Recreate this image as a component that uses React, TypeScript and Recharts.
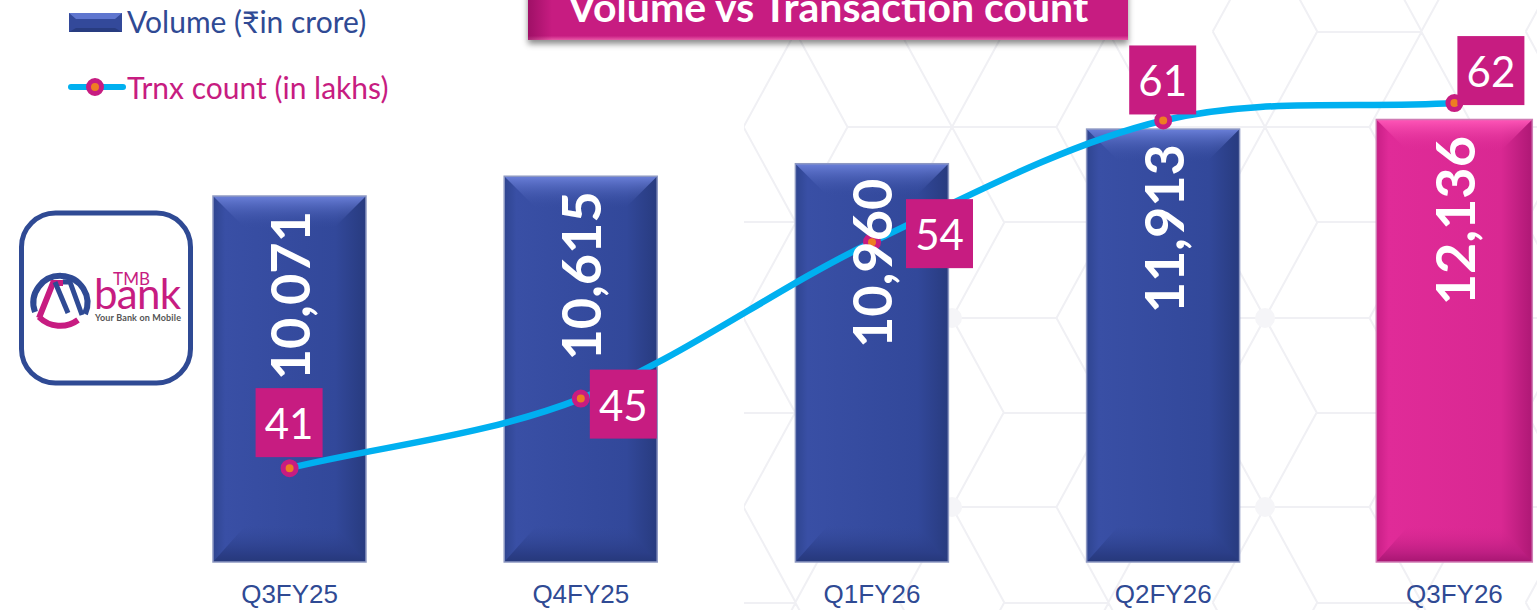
import { Bar, ComposedChart, LabelList, Line, XAxis, YAxis } from "recharts";

const categories = ["Q3FY25", "Q4FY25", "Q1FY26", "Q2FY26", "Q3FY26"];
const volume = [10071, 10615, 10960, 11913, 12136];
const trnxCount = [41, 45, 54, 61, 62];

const VOLUME_NAME = "Volume (₹in crore)";
const TRNX_NAME = "Trnx count (in lakhs)";
const TITLE = "Volume vs Transaction count";

const NAVY = "#2f4a94";
const MAGENTA = "#c71c81";

// where each count box sits relative to its point
const BOX_OFFSETS = [
  [-34, -80],
  [9, -29],
  [34, -43],
  [-34, -75],
  [3, -67],
];

const chartData = categories.map((category, i) => ({
  category,
  volume: volume[i],
  trnx: trnxCount[i],
}));

// Same smoothing as the spreadsheet line: catmull-rom tangents, passed to Line as a curve factory
function smoothCurve(context: any) {
  let pts: [number, number][] = [];
  return {
    areaStart() {},
    areaEnd() {},
    lineStart() {
      pts = [];
    },
    point(x: number, y: number) {
      pts.push([+x, +y]);
    },
    lineEnd() {
      pts.forEach(([x, y], i) => {
        if (i === 0) {
          context.moveTo(x, y);
          return;
        }
        const p0 = pts[Math.max(i - 2, 0)];
        const p1 = pts[i - 1];
        const p3 = pts[Math.min(i + 1, pts.length - 1)];
        const k1 = i === 1 ? 3 : 6;
        const k2 = i === pts.length - 1 ? 3 : 6;
        context.bezierCurveTo(
          p1[0] + (x - p0[0]) / k1,
          p1[1] + (y - p0[1]) / k1,
          x - (p3[0] - p1[0]) / k2,
          y - (p3[1] - p1[1]) / k2,
          x,
          y
        );
      });
    },
  };
}

// Bar with the bevelled look of the slide
function BevelBar(props: any) {
  const { index } = props;
  const pink = index === categories.length - 1;
  const key = pink ? "pink" : "navy";
  // the highlighted bar is a touch bigger on the slide
  const grow = pink ? 1.5 : 0;
  const x = props.x - grow;
  const y = props.y - grow;
  const width = props.width + grow * 2;
  const height = props.height + grow;
  const bev = 32;
  const right = x + width;
  const bottom = y + height;
  return (
    <g>
      <rect x={x} y={y} width={width} height={height} fill={`url(#side-${key})`} />
      <polygon
        points={`${x},${y} ${right},${y} ${right - bev},${y + bev} ${x + bev},${y + bev}`}
        fill={`url(#top-${key})`}
      />
      <polygon
        points={`${x},${bottom} ${right},${bottom} ${right - bev},${bottom - bev - 4} ${x + bev},${bottom - bev - 4}`}
        fill={`url(#bottom-${key})`}
      />
      <rect
        x={x}
        y={y}
        width={width}
        height={height}
        fill="none"
        stroke={pink ? "#cf7cb4" : "#8d98c2"}
        strokeWidth={1.5}
      />
    </g>
  );
}

function VolumeLabel(props: any) {
  const { x, y, value } = props;
  const top = y + 15;
  return (
    <text
      x={x}
      y={top}
      transform={`rotate(-90 ${x} ${top})`}
      textAnchor="end"
      dominantBaseline="central"
      fill="#fff"
      fontFamily="Lato"
      fontWeight={700}
      fontSize={54}
    >
      {value.toLocaleString("en-US")}
    </text>
  );
}

function CountBox(props: any) {
  const { x, y, value, index } = props;
  const [dx, dy] = BOX_OFFSETS[index];
  return (
    <g>
      <rect x={x + dx} y={y + dy} width={67} height={69} fill={MAGENTA} />
      <text
        x={x + dx + 33.5}
        y={y + dy + 35}
        textAnchor="middle"
        dominantBaseline="central"
        fill="#fff"
        fontFamily="Lato"
        fontSize={42}
      >
        {value}
      </text>
    </g>
  );
}

// faint hexagon pattern behind the chart
function HexBackground() {
  const side = 104.5;
  const rise = 95.5;
  const segments: string[] = [];
  const blobs: [number, number][] = [];
  for (const cx of [639, 952, 1265, 1578]) {
    for (const cy of [-64, 127, 318, 507, 698]) {
      segments.push(`M${cx - side} ${cy}L${cx + side} ${cy}`);
      for (const vx of [cx - side, cx, cx + side]) {
        const dirs = vx === cx ? [-1, 1] : vx < cx ? [-1] : [1];
        for (const d of dirs) {
          segments.push(`M${vx} ${cy}L${vx + (d * side) / 2} ${cy - rise}`);
          segments.push(`M${vx} ${cy}L${vx + (d * side) / 2} ${cy + rise}`);
        }
      }
      if (cx > 639 && (cy === 318 || cy === 507)) blobs.push([cx, cy]);
    }
    for (const cy of [32, 222, 413, 603]) {
      const fx = cx + side / 2;
      segments.push(`M${fx} ${cy}L${fx + side} ${cy}`);
    }
  }
  return (
    <svg width={1537} height={610} style={{ position: "absolute", left: 0, top: 0 }}>
      <defs>
        <clipPath id="hex-clip">
          <rect x={744} y={0} width={793} height={610} />
        </clipPath>
      </defs>
      <g clipPath="url(#hex-clip)">
        <path d={segments.join("")} stroke="#f0f0f4" strokeWidth={2} fill="none" />
        {blobs.map(([bx, by]) => (
          <circle key={`${bx}-${by}`} cx={bx} cy={by} r={10} fill="#f5f5f8" />
        ))}
      </g>
    </svg>
  );
}

function LegendBlock() {
  const textStyle = {
    position: "absolute" as const,
    left: 127,
    fontFamily: "Lato",
    fontSize: 30,
    lineHeight: "34px",
    whiteSpace: "nowrap" as const,
  };
  return (
    <>
      <svg width={60} height={24} style={{ position: "absolute", left: 68, top: 10 }}>
        <rect x={1} y={3} width={53} height={19} fill="#33499a" />
        <polygon points="1,3 54,3 47,9 8,9" fill="#5f76cf" />
        <polygon points="1,22 54,22 47,18 8,18" fill="#283c80" />
      </svg>
      <div style={{ ...textStyle, top: 4, color: NAVY }}>{VOLUME_NAME}</div>
      <svg width={60} height={24} style={{ position: "absolute", left: 66, top: 75 }}>
        <line x1={5} y1={12} x2={57} y2={12} stroke="#00b0f0" strokeWidth={6} strokeLinecap="round" />
        <circle cx={29} cy={12} r={6.5} fill="#ee7d22" stroke={MAGENTA} strokeWidth={5} />
      </svg>
      <div style={{ ...textStyle, top: 70, color: MAGENTA }}>{TRNX_NAME}</div>
    </>
  );
}

function TitleBanner() {
  return (
    <div
      style={{
        position: "absolute",
        left: 528,
        top: -20,
        width: 600,
        height: 60,
        background:
          "linear-gradient(to right, rgba(110,0,70,0.45), rgba(110,0,70,0) 4%), linear-gradient(to bottom, #c71c81 0%, #c71c81 93%, #e85aa8 100%)",
        boxShadow: "0 4px 6px rgba(0,0,0,0.45)",
        color: "#fff",
        fontFamily: "Lato",
        fontWeight: 700,
        fontSize: 41,
        textAlign: "center",
        lineHeight: "54px",
        whiteSpace: "nowrap",
      }}
    >
      {TITLE}
    </div>
  );
}

function LogoTile() {
  return (
    <svg width={180} height={180} viewBox="16 208 180 180" style={{ position: "absolute", left: 16, top: 208 }}>
      <rect x={21.5} y={213} width={169} height={170} rx={34} fill="#fff" stroke={NAVY} strokeWidth={5} />
      <path d="M35 312 A27 27 0 1 1 85 314" fill="none" stroke={NAVY} strokeWidth={6} />
      <path d="M39 317 A30 30 0 0 0 78 320" fill="none" stroke={MAGENTA} strokeWidth={6} />
      <path d="M39 318 L53 283 L63 283" fill="none" stroke={MAGENTA} strokeWidth={6} />
      <path d="M55 282 L68 313" fill="none" stroke={NAVY} strokeWidth={5} />
      <path d="M63 282 L70 282 L82 315" fill="none" stroke={NAVY} strokeWidth={5} />
      <text x={113} y={285} fontFamily="Lato" fontSize={17} fill={MAGENTA} textLength={37}>TMB</text>
      <text x={94} y={309} fontFamily="Lato" fontSize={42} fill={MAGENTA} textLength={87}>bank</text>
      <text x={95} y={321} fontFamily="Lato" fontSize={9} fontWeight={700} fill="#555" textLength={86}>Your Bank on Mobile</text>
    </svg>
  );
}

export default function App() {
  return (
    <div style={{ position: "absolute", left: 0, top: 0, width: 1537, height: 610, overflow: "hidden", background: "#fff" }}>
      <HexBackground />
      <div style={{ position: "absolute", left: 0, top: 0 }}>
        <ComposedChart
          width={1600}
          height={610}
          data={chartData}
          margin={{ top: 0, right: 0, bottom: 0, left: 144 }}
        >
          <defs>
            <linearGradient id="side-navy" x1="0" y1="0" x2="1" y2="0">
              <stop offset="0" stopColor="#2f4590" />
              <stop offset="0.08" stopColor="#394fa5" />
              <stop offset="0.8" stopColor="#32489a" />
              <stop offset="1" stopColor="#283b7f" />
            </linearGradient>
            <linearGradient id="top-navy" x1="0" y1="0" x2="0" y2="1">
              <stop offset="0" stopColor="#6b80d9" />
              <stop offset="1" stopColor="#3a50a4" stopOpacity={0} />
            </linearGradient>
            <linearGradient id="bottom-navy" x1="0" y1="1" x2="0" y2="0">
              <stop offset="0" stopColor="#26387a" />
              <stop offset="0.25" stopColor="#2b3e88" />
              <stop offset="1" stopColor="#324796" stopOpacity={0} />
            </linearGradient>
            <linearGradient id="side-pink" x1="0" y1="0" x2="1" y2="0">
              <stop offset="0" stopColor="#c81f86" />
              <stop offset="0.08" stopColor="#e02b98" />
              <stop offset="0.8" stopColor="#d92892" />
              <stop offset="1" stopColor="#ae1875" />
            </linearGradient>
            <linearGradient id="top-pink" x1="0" y1="0" x2="0" y2="1">
              <stop offset="0" stopColor="#ff57b8" />
              <stop offset="1" stopColor="#dd2a95" stopOpacity={0} />
            </linearGradient>
            <linearGradient id="bottom-pink" x1="0" y1="1" x2="0" y2="0">
              <stop offset="0" stopColor="#a81672" />
              <stop offset="0.25" stopColor="#bd1e82" />
              <stop offset="1" stopColor="#d72790" stopOpacity={0} />
            </linearGradient>
          </defs>
          <XAxis
            dataKey="category"
            height={48}
            interval={0}
            axisLine={false}
            tickLine={false}
            tickMargin={17}
            tick={{ fontSize: 26, fill: NAVY, fontFamily: "Liberation Sans" }}
          />
          <YAxis yAxisId="vol" hide domain={[0, 15465]} />
          <YAxis yAxisId="trnx" hide orientation="right" domain={[35.6, 67.93]} />
          <Bar
            yAxisId="vol"
            dataKey="volume"
            barSize={153}
            shape={BevelBar}
            isAnimationActive={false}
          />
          <Line
            yAxisId="trnx"
            dataKey="trnx"
            type={smoothCurve as any}
            stroke="#00b0f0"
            strokeWidth={6.5}
            dot={{ r: 6.5, fill: "#ee7d22", stroke: MAGENTA, strokeWidth: 5 }}
            activeDot={false}
            isAnimationActive={false}
          >
            <LabelList dataKey="trnx" content={CountBox} />
          </Line>
          {/* invisible line so the rotated volume labels paint above the curve */}
          <Line
            yAxisId="vol"
            dataKey="volume"
            stroke="none"
            dot={false}
            activeDot={false}
            isAnimationActive={false}
          >
            <LabelList dataKey="volume" content={VolumeLabel} />
          </Line>
        </ComposedChart>
      </div>
      <LegendBlock />
      <TitleBanner />
      <LogoTile />
    </div>
  );
}
